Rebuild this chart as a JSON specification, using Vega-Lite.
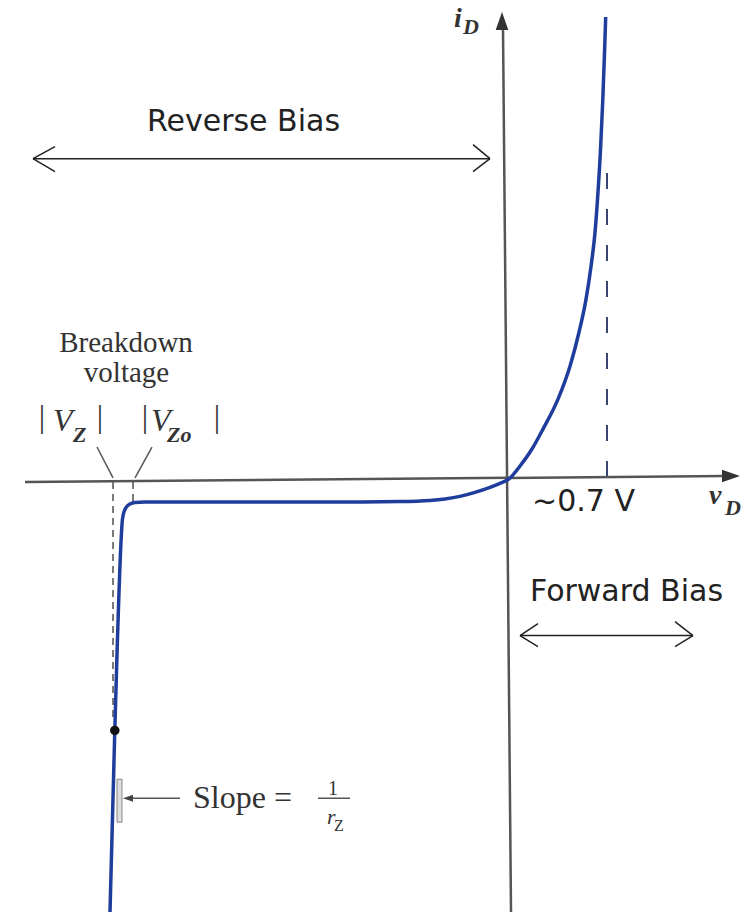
{
  "$schema": "https://vega.github.io/schema/vega-lite/v6.json",
  "width": 752,
  "height": 914,
  "autosize": {"type": "fit", "contains": "padding"},
  "padding": 0,
  "background": "white",
  "config": {"view": {"stroke": null}},
  "datasets": {
    "curve": [
      {"v": -2.85, "i": -43.4},
      {"v": -2.8157, "i": -25.2},
      {"v": -2.7607, "i": -4.0},
      {"v": -2.75, "i": -3.3},
      {"v": -2.7321, "i": -2.8},
      {"v": -2.7071, "i": -2.5},
      {"v": -2.6714, "i": -2.35},
      {"v": -2.6, "i": -2.32},
      {"v": -1.85, "i": -2.3},
      {"v": -1.1357, "i": -2.3},
      {"v": -0.7786, "i": -2.26},
      {"v": -0.5643, "i": -2.15},
      {"v": -0.4571, "i": -2.0},
      {"v": -0.35, "i": -1.75},
      {"v": -0.2429, "i": -1.35},
      {"v": -0.1357, "i": -0.85},
      {"v": -0.0643, "i": -0.45},
      {"v": 0.0, "i": 0.0},
      {"v": 0.0786, "i": 1.3},
      {"v": 0.1643, "i": 3.0},
      {"v": 0.2429, "i": 5.0},
      {"v": 0.35, "i": 8.0},
      {"v": 0.4357, "i": 11.3},
      {"v": 0.5, "i": 14.7},
      {"v": 0.55, "i": 18.0},
      {"v": 0.5857, "i": 21.3},
      {"v": 0.6143, "i": 24.7},
      {"v": 0.6321, "i": 28.0},
      {"v": 0.6536, "i": 33.0},
      {"v": 0.67, "i": 38.0},
      {"v": 0.6829, "i": 43.0},
      {"v": 0.6907, "i": 46.3}
    ],
    "zenerRefs": [
      {"v": -2.8286, "i": -0.3, "v2": -2.8286, "i2": -24.0},
      {"v": -2.6857, "i": -0.3, "v2": -2.6857, "i2": -2.3}
    ],
    "kneeRef": [
      {"v": 0.7, "i": 0.2, "v2": 0.7, "i2": 32.0}
    ],
    "axes": [
      {"v": -3.4571, "i": -0.3, "v2": 1.5429, "i2": 0.29},
      {"v": 0.0143, "i": -43.4, "v2": -0.0429, "i2": 45.2}
    ],
    "xHead": [{"v": 1.65, "i": 0.3}],
    "yHead": [{"v": -0.05, "i": 46.8}],
    "biasArrows": [
      {"v": -3.4, "i": 32.1, "v2": -0.1357, "i2": 32.1},
      {"v": -3.4, "i": 32.1, "v2": -3.2429, "i2": 33.3},
      {"v": -3.4, "i": 32.1, "v2": -3.2429, "i2": 30.8},
      {"v": -0.1357, "i": 32.1, "v2": -0.2571, "i2": 33.5},
      {"v": -0.1357, "i": 32.1, "v2": -0.2571, "i2": 30.8},
      {"v": 0.0786, "i": -15.7, "v2": 1.3143, "i2": -15.7},
      {"v": 0.0786, "i": -15.7, "v2": 0.2071, "i2": -14.5},
      {"v": 0.0786, "i": -15.7, "v2": 0.2071, "i2": -16.8},
      {"v": 1.3143, "i": -15.7, "v2": 1.1857, "i2": -14.3},
      {"v": 1.3143, "i": -15.7, "v2": 1.1857, "i2": -16.8}
    ],
    "leaders": [
      {"v": -2.9429, "i": 3.2, "v2": -2.8286, "i2": 0.1},
      {"v": -2.55, "i": 3.2, "v2": -2.6714, "i2": 0.1},
      {"v": -2.35, "i": -32.0, "v2": -2.72, "i2": -32.0},
      {"v": -1.3643, "i": -32.0, "v2": -1.1357, "i2": -32.0}
    ],
    "slopeHead": [{"v": -2.7571, "i": -32.0}],
    "slopeTick": [{"v": -2.8, "i": -30.1, "v2": -2.7643, "i2": -34.4}],
    "qPoint": [{"v": -2.8157, "i": -25.2}],
    "biasLabels": [
      {"v": -1.8964, "i": 34.9, "label": "Reverse Bias"},
      {"v": 0.8393, "i": -12.2, "label": "Forward Bias"},
      {"v": 0.5321, "i": -3.2, "label": "~0.7 V"}
    ],
    "breakdownLabel": [
      {"v": -2.7357, "i": 12.7, "label": "Breakdown"},
      {"v": -2.7321, "i": 9.7, "label": "voltage"}
    ],
    "bars": [
      {"v": -3.3357, "i": 5.2, "label": "|"},
      {"v": -2.9214, "i": 5.2, "label": "|"},
      {"v": -2.6, "i": 5.2, "label": "|"},
      {"v": -2.0857, "i": 5.2, "label": "|"}
    ],
    "vLetters": [
      {"v": -3.2571, "i": 4.8, "label": "V"},
      {"v": -2.5571, "i": 4.8, "label": "V"}
    ],
    "subscripts": [
      {"v": -3.1143, "i": 3.7, "label": "Z"},
      {"v": -2.4429, "i": 3.7, "label": "Zo"},
      {"v": -0.3286, "i": 44.6, "label": "D"},
      {"v": 1.5429, "i": -3.6, "label": "D"}
    ],
    "axisSymbols": [
      {"v": -0.3929, "i": 45.3, "label": "i"},
      {"v": 1.4286, "i": -2.5, "label": "v"}
    ],
    "slopeText": [{"v": -2.2571, "i": -33.0, "label": "Slope ="}],
    "fracNum": [{"v": -1.2571, "i": -31.7, "label": "1"}],
    "fracR": [{"v": -1.3, "i": -34.6, "label": "r"}],
    "fracSub": [{"v": -1.25, "i": -35.3, "label": "Z"}]
  },
  "encoding": {
    "x": {"field": "v", "type": "quantitative", "scale": {"domain": [-3.6357, 1.7357], "nice": false, "zero": false}, "axis": null},
    "y": {"field": "i", "type": "quantitative", "scale": {"domain": [-43.4, 48.0], "nice": false, "zero": false}, "axis": null}
  },
  "layer": [
    {
      "data": {"name": "zenerRefs"},
      "mark": {"type": "rule", "color": "#7a7a7a", "strokeWidth": 2, "strokeDash": [7, 5]},
      "encoding": {"x2": {"field": "v2"}, "y2": {"field": "i2"}}
    },
    {
      "data": {"name": "kneeRef"},
      "mark": {"type": "rule", "color": "#3a4470", "strokeWidth": 2, "strokeDash": [16, 20]},
      "encoding": {"x2": {"field": "v2"}, "y2": {"field": "i2"}}
    },
    {
      "data": {"name": "axes"},
      "mark": {"type": "rule", "color": "#555555", "strokeWidth": 2.5},
      "encoding": {"x2": {"field": "v2"}, "y2": {"field": "i2"}}
    },
    {
      "data": {"name": "xHead"},
      "mark": {"type": "point", "shape": "M0,0L-2,-0.7L-2,0.7Z", "size": 324, "filled": true, "color": "#333333", "opacity": 1}
    },
    {
      "data": {"name": "yHead"},
      "mark": {"type": "point", "shape": "M0,0L-0.7,2L0.7,2Z", "size": 324, "filled": true, "color": "#333333", "opacity": 1}
    },
    {
      "data": {"name": "curve"},
      "mark": {"type": "line", "color": "#1f3d9c", "strokeWidth": 3.5, "interpolate": "monotone", "clip": true}
    },
    {
      "data": {"name": "biasArrows"},
      "mark": {"type": "rule", "color": "#222222", "strokeWidth": 1.5},
      "encoding": {"x2": {"field": "v2"}, "y2": {"field": "i2"}}
    },
    {
      "data": {"name": "leaders"},
      "mark": {"type": "rule", "color": "#555555", "strokeWidth": 1.5},
      "encoding": {"x2": {"field": "v2"}, "y2": {"field": "i2"}}
    },
    {
      "data": {"name": "slopeHead"},
      "mark": {"type": "point", "shape": "M0,0L2,-0.7L2,0.7Z", "size": 100, "filled": true, "color": "#444444", "opacity": 1}
    },
    {
      "data": {"name": "slopeTick"},
      "mark": {"type": "rect", "fill": "#dddddd", "stroke": "#888888", "strokeWidth": 1},
      "encoding": {"x2": {"field": "v2"}, "y2": {"field": "i2"}}
    },
    {
      "data": {"name": "qPoint"},
      "mark": {"type": "point", "filled": true, "size": 90, "color": "#111111", "opacity": 1}
    },
    {
      "data": {"name": "biasLabels"},
      "mark": {"type": "text", "font": "DejaVu Sans", "fontSize": 30, "color": "#222222", "align": "center", "baseline": "alphabetic"},
      "encoding": {"text": {"field": "label"}}
    },
    {
      "data": {"name": "breakdownLabel"},
      "mark": {"type": "text", "font": "Liberation Serif", "fontSize": 29, "color": "#333333", "align": "center", "baseline": "alphabetic"},
      "encoding": {"text": {"field": "label"}}
    },
    {
      "data": {"name": "bars"},
      "mark": {"type": "text", "font": "Liberation Serif", "fontSize": 32, "color": "#333333", "align": "center", "baseline": "alphabetic"},
      "encoding": {"text": {"field": "label"}}
    },
    {
      "data": {"name": "vLetters"},
      "mark": {"type": "text", "font": "Liberation Serif", "fontStyle": "italic", "fontSize": 32, "color": "#333333", "align": "left", "baseline": "alphabetic"},
      "encoding": {"text": {"field": "label"}}
    },
    {
      "data": {"name": "subscripts"},
      "mark": {"type": "text", "font": "Liberation Serif", "fontStyle": "italic", "fontWeight": "bold", "fontSize": 22, "color": "#333333", "align": "left", "baseline": "alphabetic"},
      "encoding": {"text": {"field": "label"}}
    },
    {
      "data": {"name": "axisSymbols"},
      "mark": {"type": "text", "font": "Liberation Serif", "fontStyle": "italic", "fontWeight": "bold", "fontSize": 28, "color": "#333333", "align": "left", "baseline": "alphabetic"},
      "encoding": {"text": {"field": "label"}}
    },
    {
      "data": {"name": "slopeText"},
      "mark": {"type": "text", "font": "Liberation Serif", "fontSize": 32, "color": "#333333", "align": "left", "baseline": "alphabetic"},
      "encoding": {"text": {"field": "label"}}
    },
    {
      "data": {"name": "fracNum"},
      "mark": {"type": "text", "font": "Liberation Serif", "fontSize": 20, "color": "#333333", "align": "center", "baseline": "alphabetic"},
      "encoding": {"text": {"field": "label"}}
    },
    {
      "data": {"name": "fracR"},
      "mark": {"type": "text", "font": "Liberation Serif", "fontStyle": "italic", "fontSize": 22, "color": "#333333", "align": "left", "baseline": "alphabetic"},
      "encoding": {"text": {"field": "label"}}
    },
    {
      "data": {"name": "fracSub"},
      "mark": {"type": "text", "font": "Liberation Serif", "fontSize": 16, "color": "#333333", "align": "left", "baseline": "alphabetic"},
      "encoding": {"text": {"field": "label"}}
    }
  ]
}
